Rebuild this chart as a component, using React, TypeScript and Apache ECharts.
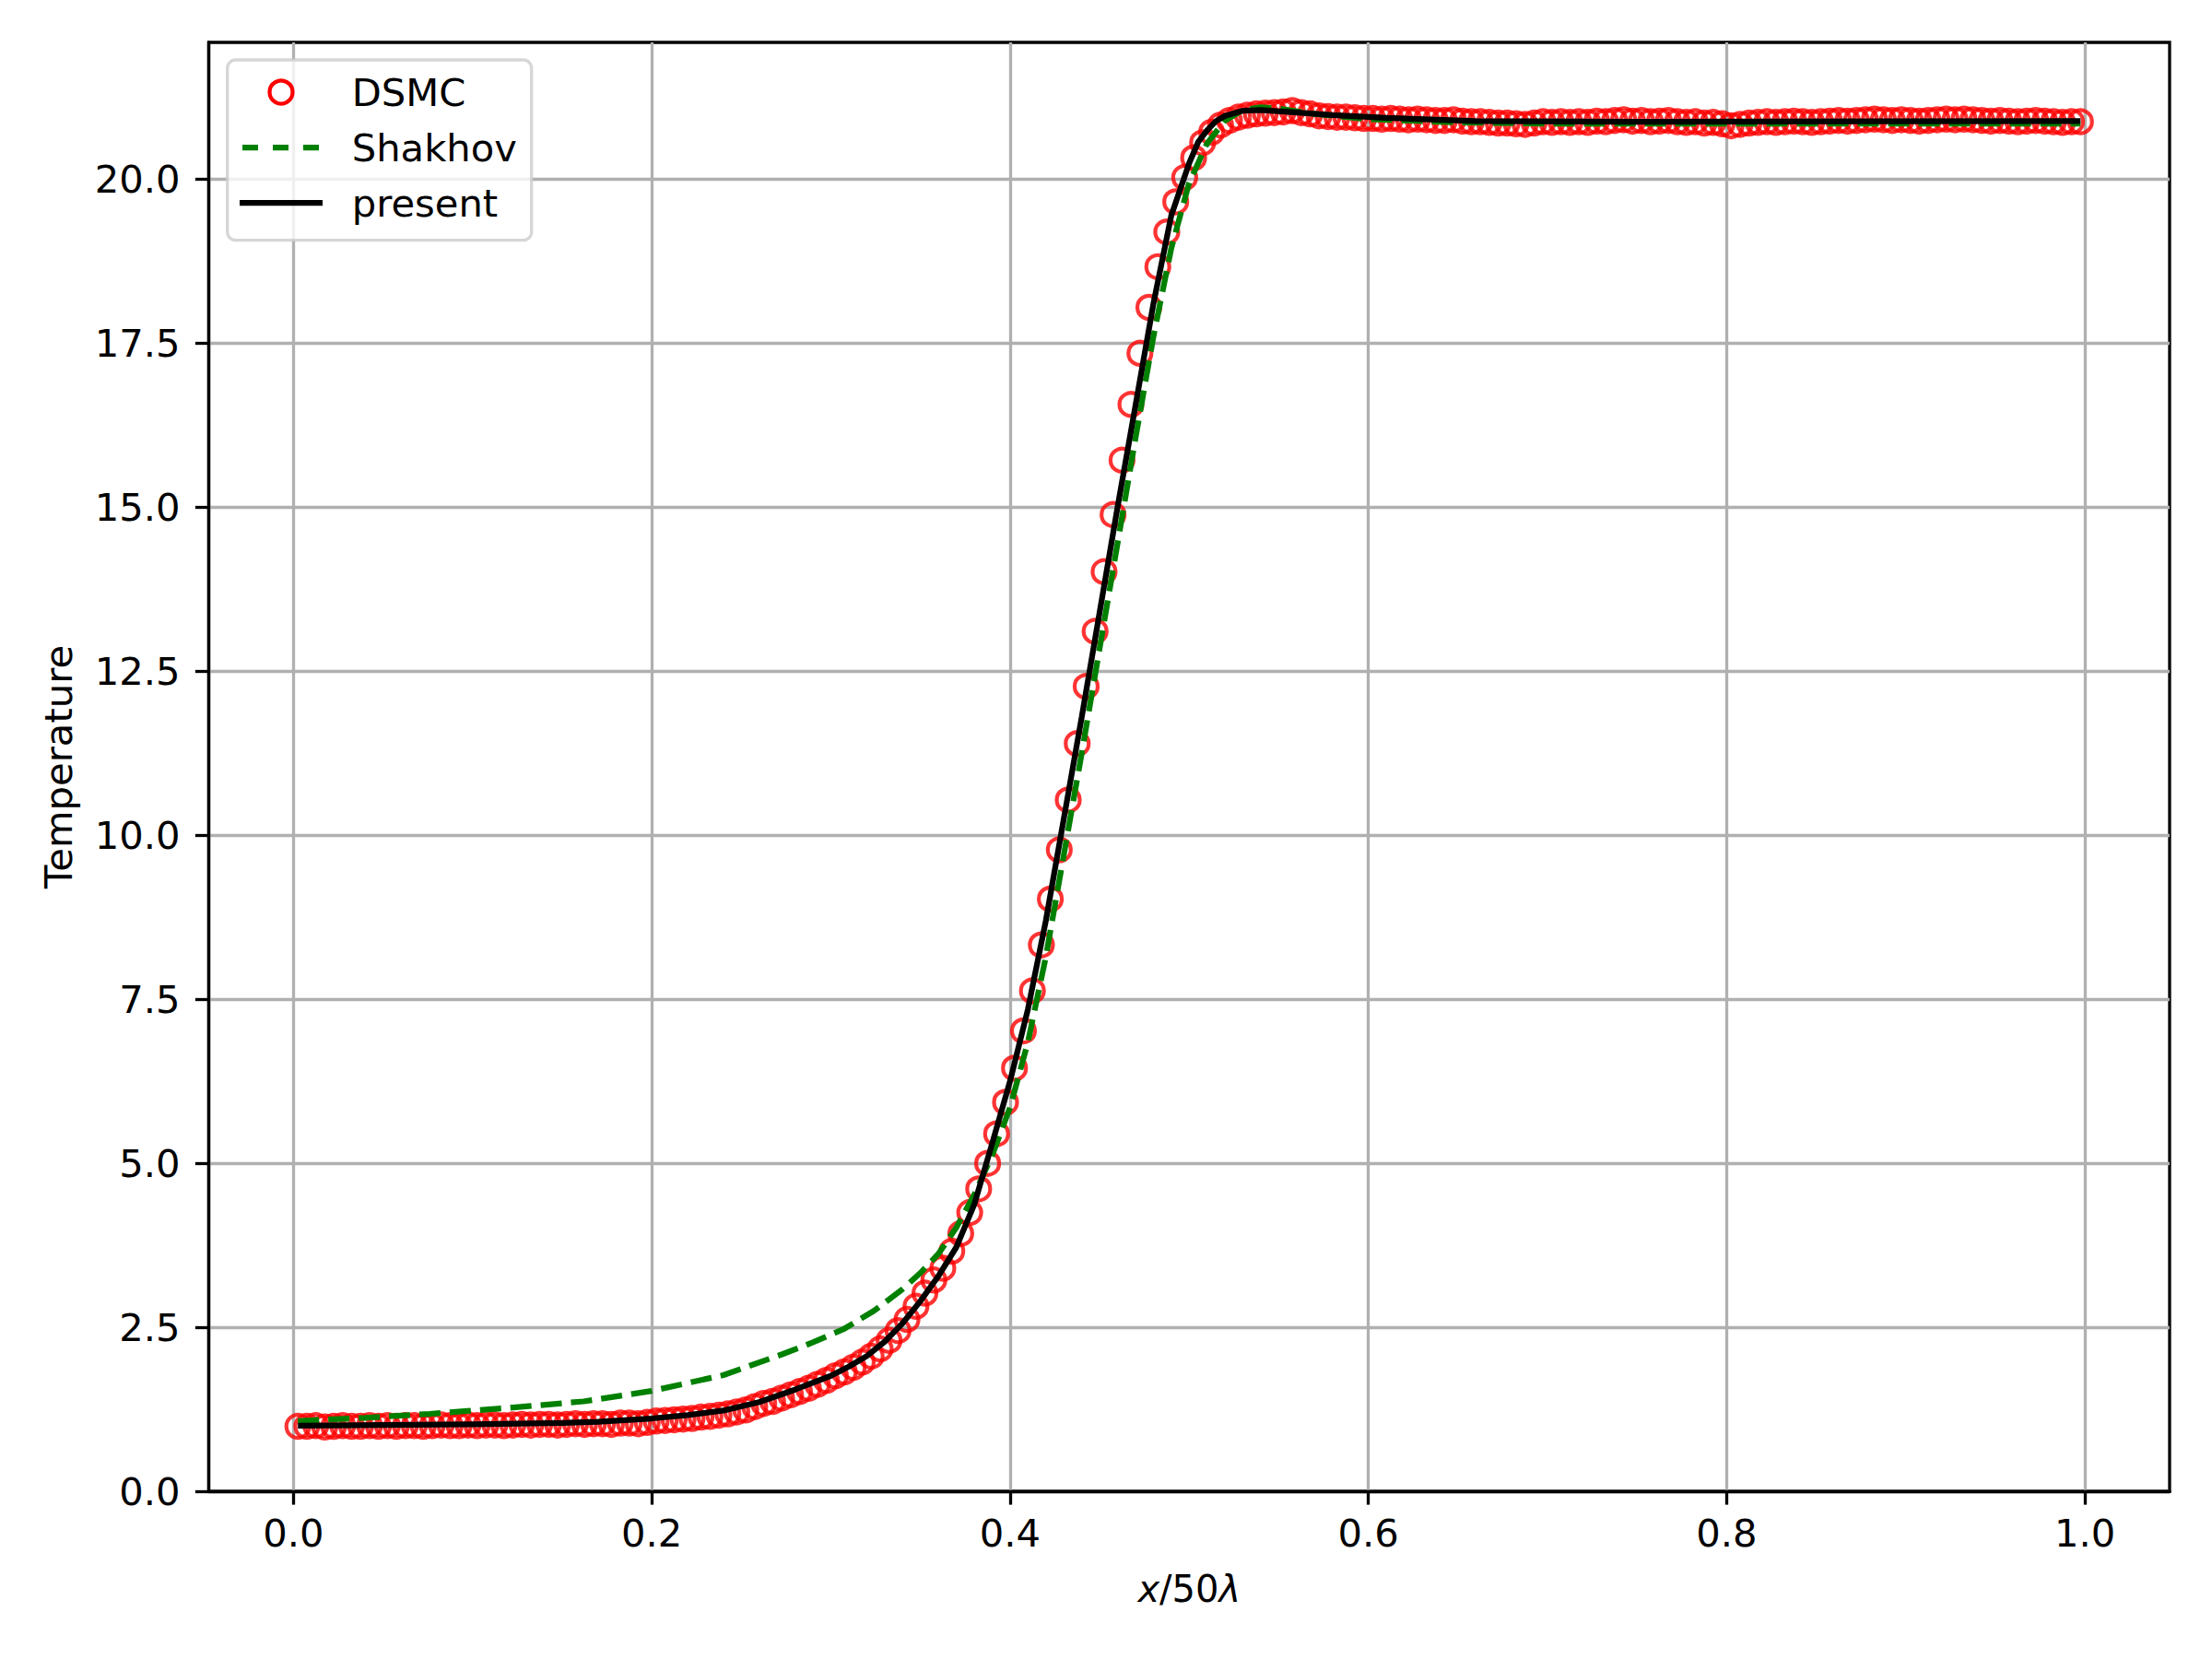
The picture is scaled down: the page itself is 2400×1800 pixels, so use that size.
import React, { useEffect, useRef } from "react";
import * as echarts from "echarts";

const FONT = "DejaVu Sans";

// DSMC samples: x = 0.0025 + 0.005 * i (i = 0..199)
const DSMC_X_START = 0.0025;
const DSMC_X_STEP = 0.005;

// x = 0.0025 .. 0.1975
const dsmcLow = [
  0.99, 0.99, 1.0, 0.98, 0.99, 1.0, 0.99, 0.99, 1.0, 0.99,
  1.0, 0.99, 1.0, 1.0, 0.99, 1.0, 1.01, 1.0, 1.0, 1.01,
  1.0, 1.01, 1.01, 1.0, 1.01, 1.02, 1.01, 1.02, 1.02, 1.01,
  1.02, 1.03, 1.02, 1.03, 1.03, 1.02, 1.04, 1.04, 1.03, 1.05,
];
// x = 0.2025 .. 0.5725
const dsmcRise = [
  1.07, 1.08, 1.09, 1.1, 1.11, 1.13, 1.14, 1.16, 1.18, 1.21,
  1.24, 1.29, 1.34, 1.37, 1.42, 1.47, 1.52, 1.57, 1.63, 1.69,
  1.76, 1.82, 1.89, 1.97, 2.06, 2.17, 2.3, 2.45, 2.62, 2.82,
  3.02, 3.22, 3.4, 3.66, 3.93, 4.25, 4.61, 5.0, 5.45, 5.93,
  6.45, 7.02, 7.63, 8.33, 9.03, 9.78, 10.54, 11.4, 12.27, 13.11,
  14.02, 14.89, 15.72, 16.57, 17.35, 18.05, 18.67, 19.2, 19.66, 20.03,
  20.33, 20.56, 20.72, 20.83, 20.9, 20.95, 20.98, 21.0, 21.01, 21.02,
  21.03, 21.05, 21.02, 21.0, 20.97,
];
// x = 0.5775 .. 0.9975
const dsmcHigh = [
  20.96, 20.95, 20.95, 20.94, 20.93, 20.93, 20.92, 20.93, 20.92, 20.91,
  20.92, 20.91, 20.9, 20.9, 20.91, 20.89, 20.88, 20.88, 20.87, 20.86,
  20.86, 20.85, 20.84, 20.86, 20.88, 20.87, 20.88, 20.87, 20.88, 20.87,
  20.89, 20.88, 20.9, 20.91, 20.89, 20.9, 20.88, 20.89, 20.9, 20.88,
  20.87, 20.88, 20.86, 20.87, 20.85, 20.82, 20.84, 20.86, 20.87, 20.88,
  20.87, 20.88, 20.89, 20.88, 20.87, 20.88, 20.89, 20.9, 20.89, 20.9,
  20.91, 20.92, 20.91, 20.9, 20.91, 20.9, 20.89, 20.9, 20.91, 20.92,
  20.91, 20.92, 20.91, 20.9, 20.89, 20.9, 20.89, 20.88, 20.89, 20.9,
  20.89, 20.88, 20.87, 20.88, 20.88,
];

const shakhovX = [
  0.0025, 0.04, 0.076, 0.12, 0.162, 0.2, 0.24, 0.273, 0.29, 0.307,
  0.324, 0.34, 0.35, 0.36, 0.37, 0.38, 0.39, 0.4, 0.41, 0.42,
  0.43, 0.44, 0.45, 0.46, 0.47, 0.48, 0.49, 0.5, 0.51, 0.52,
  0.53, 0.54, 0.55, 0.57, 0.6, 0.65, 0.7, 0.9975,
];
const shakhovY = [
  1.07, 1.12, 1.18, 1.27, 1.37, 1.53, 1.77, 2.09, 2.27, 2.47,
  2.75, 3.08, 3.33, 3.62, 4.02, 4.52, 5.12, 5.85, 6.85, 8.15,
  9.7, 11.25, 12.85, 14.45, 16.05, 17.6, 18.95, 19.95, 20.55, 20.9,
  21.06, 21.1, 21.08, 21.0, 20.92, 20.87, 20.85, 20.85,
];

const presentX = [
  0.0025, 0.05, 0.1, 0.15, 0.17, 0.2, 0.22, 0.24, 0.26, 0.28,
  0.3, 0.31, 0.32, 0.33, 0.34, 0.35, 0.36, 0.37, 0.38, 0.39,
  0.4, 0.41, 0.42, 0.43, 0.44, 0.45, 0.46, 0.47, 0.48, 0.49,
  0.5, 0.505, 0.51, 0.515, 0.52, 0.53, 0.54, 0.555, 0.58, 0.61,
  0.66, 0.75, 0.9975,
];
const presentY = [
  1.0, 1.01, 1.02, 1.04, 1.06, 1.11, 1.16, 1.23, 1.36, 1.55,
  1.76, 1.9, 2.06, 2.28, 2.56, 2.9, 3.28, 3.72, 4.37, 5.3,
  6.25, 7.35, 8.7, 10.25, 11.8, 13.4, 15.0, 16.55, 18.1, 19.45,
  20.25, 20.57, 20.75, 20.89, 20.97, 21.05, 21.06, 21.03, 20.98, 20.94,
  20.89, 20.88, 20.89,
];

const xTicks = [0, 0.2, 0.4, 0.6, 0.8, 1.0];
const yTicks = [0, 2.5, 5, 7.5, 10, 12.5, 15, 17.5, 20];
const X_MIN = -0.04725;
const X_MAX = 1.04725;
const Y_MIN = 0;
const Y_MAX = 22.09;

const legendLabels = ["DSMC", "Shakhov", "present"];

export default function App() {
  const ref = useRef<HTMLDivElement>(null);

  useEffect(() => {
    if (!ref.current) return;
    const chart = echarts.init(ref.current, null, { renderer: "svg" });

    const dsmcValues = [...dsmcLow, ...dsmcRise, ...dsmcHigh];
    const dsmcData = dsmcValues.map((v, i) => [DSMC_X_START + DSMC_X_STEP * i, v]);
    const shakhovData = shakhovX.map((x, i) => [x, shakhovY[i]]);
    const presentData = presentX.map((x, i) => [x, presentY[i]]);

    const lw = 3.3;
    const fs = 41.7;
    const nameFs = 40;

    const option: any = {
      animation: false,
      backgroundColor: "#ffffff",
      grid: {
        left: 226.5,
        right: 46,
        top: 46,
        bottom: 182,
        show: true,
        borderColor: "#000000",
        borderWidth: lw,
        backgroundColor: "transparent",
        containLabel: false,
        outerBoundsMode: "none",
      },
      xAxis: {
        type: "value",
        min: X_MIN,
        max: X_MAX,
        axisLine: { show: true, onZero: false, lineStyle: { color: "#000", width: lw } },
        axisTick: {
          show: true,
          inside: false,
          length: 14.6,
          customValues: xTicks,
          lineStyle: { color: "#000", width: lw },
        },
        axisLabel: {
          customValues: xTicks,
          formatter: (v: number) => v.toFixed(1),
          fontSize: fs,
          fontFamily: FONT,
          color: "#000",
          margin: 24,
        },
        splitLine: { show: true, lineStyle: { color: "#b0b0b0", width: lw } },
        name: "{i|x}/50{i|λ}",
        nameLocation: "middle",
        nameGap: 86,
        nameTextStyle: {
          fontSize: nameFs,
          fontFamily: FONT,
          color: "#000",
          rich: {
            i: { fontStyle: "italic", fontSize: nameFs, fontFamily: FONT, color: "#000" },
          },
        },
      },
      yAxis: {
        type: "value",
        min: Y_MIN,
        max: Y_MAX,
        interval: 2.5,
        axisLine: { show: true, onZero: false, lineStyle: { color: "#000", width: lw } },
        axisTick: {
          show: true,
          inside: false,
          length: 14.6,
          customValues: yTicks,
          lineStyle: { color: "#000", width: lw },
        },
        axisLabel: {
          customValues: yTicks,
          formatter: (v: number) => v.toFixed(1),
          fontSize: fs,
          fontFamily: FONT,
          color: "#000",
          margin: 31,
        },
        splitLine: { show: true, lineStyle: { color: "#b0b0b0", width: lw } },
        name: "Temperature",
        nameLocation: "middle",
        nameGap: 142,
        nameTextStyle: { fontSize: fs, fontFamily: FONT, color: "#000" },
      },
      series: [
        {
          type: "scatter",
          name: legendLabels[0],
          data: dsmcData,
          symbol: "circle",
          symbolSize: 25,
          itemStyle: { color: "rgba(0,0,0,0)", borderColor: "#ff0000", borderWidth: 4.2 },
          z: 2,
          silent: true,
        },
        {
          type: "line",
          name: legendLabels[1],
          data: shakhovData,
          symbol: "none",
          showSymbol: false,
          lineStyle: { color: "#008000", width: 6.25, type: [23, 10] },
          z: 3,
          silent: true,
        },
        {
          type: "line",
          name: legendLabels[2],
          data: presentData,
          symbol: "none",
          showSymbol: false,
          lineStyle: { color: "#000000", width: 6.25 },
          z: 4,
          silent: true,
        },
      ],
      graphic: [
        {
          type: "rect",
          z: 100,
          shape: { x: 246.7, y: 65, width: 330, height: 195.7, r: 9 },
          style: { fill: "rgba(255,255,255,0.8)", stroke: "rgba(204,204,204,0.8)", lineWidth: lw },
        },
        {
          type: "circle",
          z: 101,
          shape: { cx: 305, cy: 100, r: 12.5 },
          style: { fill: "none", stroke: "#ff0000", lineWidth: 4.2 },
        },
        {
          type: "line",
          z: 101,
          shape: { x1: 263, y1: 160, x2: 347, y2: 160 },
          style: { stroke: "#008000", lineWidth: 6.25, lineDash: [17, 16] },
        },
        {
          type: "line",
          z: 101,
          shape: { x1: 260, y1: 220, x2: 350, y2: 220 },
          style: { stroke: "#000000", lineWidth: 6.25 },
        },
        ...legendLabels.map((t, k) => ({
          type: "text",
          z: 101,
          x: 381.7,
          y: 100 + 60 * k,
          style: {
            text: t,
            fontSize: fs,
            fontFamily: FONT,
            fill: "#000",
            verticalAlign: "middle",
            align: "left",
          },
        })),
      ],
    };

    chart.setOption(option);
    return () => {
      chart.dispose();
    };
  }, []);

  return (
    <div
      ref={ref}
      style={{ position: "absolute", left: 0, top: 0, width: 2400, height: 1800, background: "#fff" }}
    />
  );
}
